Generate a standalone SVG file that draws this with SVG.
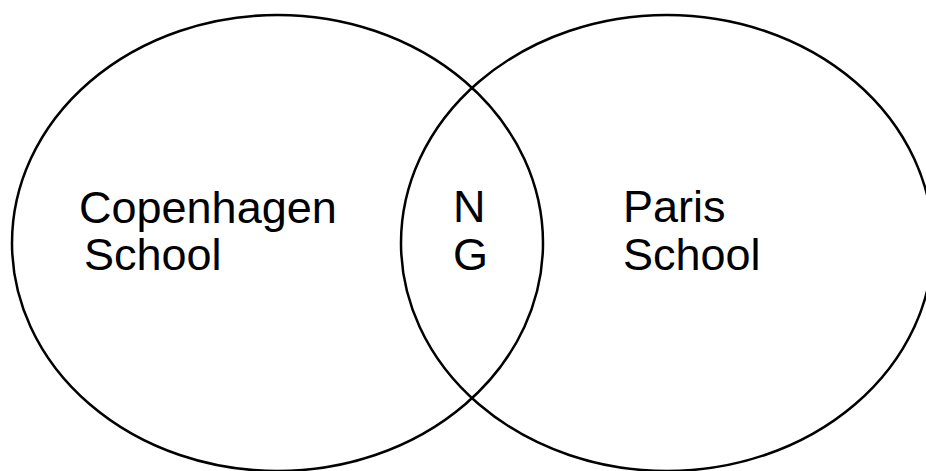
<svg xmlns="http://www.w3.org/2000/svg" width="926" height="471" viewBox="0 0 926 471">
<style>
.e{fill:none;stroke:#000;stroke-width:2.5}
.t{font-family:"Liberation Sans",Arial,sans-serif;font-size:45px;fill:#000}
</style>
<rect width="926" height="471" fill="#fff"/>
<g id="copenhagen">
<ellipse class="e" cx="277.5" cy="243" rx="265.5" ry="228"/>
<text class="t" x="79" y="223">Copenhagen</text>
<text class="t" x="84" y="270">School</text>
</g>
<g id="paris">
<ellipse class="e" cx="667" cy="243" rx="266" ry="228"/>
<text class="t" x="623" y="222">Paris</text>
<text class="t" x="623" y="270">School</text>
</g>
<g id="ng">
<text class="t" x="453" y="222">N</text>
<text class="t" x="453" y="270">G</text>
</g>
<g id="connectors"/>
</svg>
